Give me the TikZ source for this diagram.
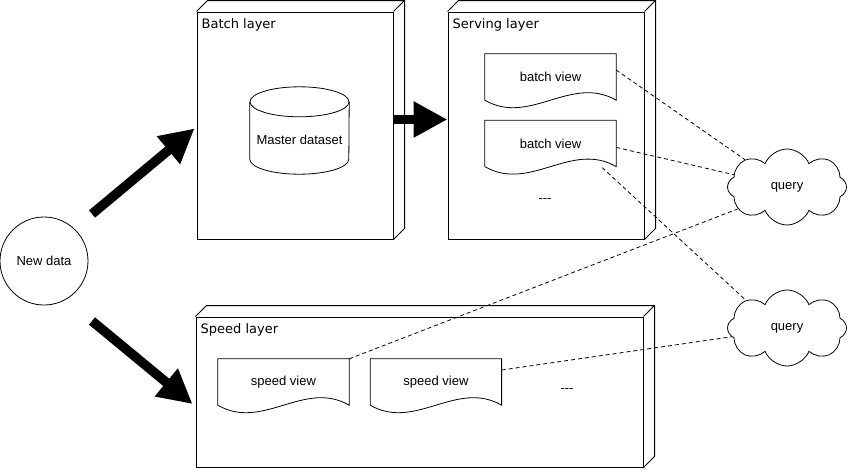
\documentclass[tikz,border=0pt]{standalone}
\usepackage{fontspec}
\setmainfont{Liberation Sans}
\newfontfamily\layerfont{DejaVu Sans}
\usetikzlibrary{positioning,shapes.symbols,arrows.meta}

% 3D depth of a layer box
\newcommand{\boxdepth}[1]{%
  \draw[layer line] (#1.north west) -- ++(11,-11) -- ([shift={(11,-11)}]#1.north east)
    -- ([shift={(11,-11)}]#1.south east) -- (#1.south east)
    (#1.north east) -- ++(11,-11);}
% document outline with wavy bottom
\newcommand{\docoutline}[1]{%
  \draw[view line] (#1.south west) -- (#1.north west) -- (#1.north east) -- (#1.south east)
    .. controls +(-45,-26) and +(45,26) .. (#1.south west);}
% cylinder outline
\newcommand{\dboutline}[1]{%
  \draw[view line] ([yshift=-15pt]#1.north) ellipse [x radius=49.5, y radius=15];
  \draw[view line] ([yshift=-15pt]#1.north west) -- ([yshift=15pt]#1.south west)
    arc [start angle=180, end angle=0, x radius=49.5, y radius=15] -- ([yshift=-15pt]#1.north east);}

\begin{document}
\begin{tikzpicture}[
    x=1pt, y=-1pt,
    font=\fontsize{13}{15}\selectfont,
    layer line/.style={line width=1pt},
    view line/.style={line width=0.8pt},
    layer/.style={rectangle, draw, layer line, minimum width=196pt, minimum height=227pt},
    layername/.style={anchor=north west, inner xsep=5pt, inner ysep=7pt, font=\layerfont\fontsize{13}{15}\selectfont},
    view/.style={rectangle, minimum width=131pt, minimum height=46pt, inner sep=0pt},
    query/.style={cloud, draw, view line, cloud puffs=8, cloud puff arc=135, aspect=1.6, minimum width=119pt, minimum height=76pt, inner sep=0pt},
    link/.style={line width=0.8pt, dash pattern=on 4pt off 3pt},
    flow/.style={-{Triangle[length=34pt,width=34pt]}, line width=9.5pt}
]
\useasboundingbox (0,0) rectangle (850,469);

% layers
\node[layer, label={[layername]north west:Batch layer}] (batch) at (295,125.5) {};
\node[layer, right=54pt of batch, label={[layername]north west:Serving layer}] (serving) {};
\node[layer, minimum width=447pt, minimum height=150pt, label={[layername]north west:Speed layer}] (speed) at (419.5,392) {};
\boxdepth{batch}
\boxdepth{serving}
\boxdepth{speed}

\node[circle, draw, view line, minimum size=88pt, inner sep=0pt] (newdata) at (44,261) {New data};
\node[rectangle, minimum width=99pt, minimum height=87pt, inner sep=0pt,
      label={[yshift=-9.5pt]center:Master dataset}] (master) at (299.5,130.5) {};
\dboutline{master}

% views
\node[view] (bv1) at (550.5,77) {batch view};
\node[view, below=20pt of bv1] (bv2) {batch view};
\node (dots1) at (545,201) {-{}-{}-};
\node[view] (sv1) at (283.5,382) {speed view};
\node[view, right=21pt of sv1] (sv2) {speed view};
\node (dots2) at (567,391) {-{}-{}-};
\docoutline{bv1}
\docoutline{bv2}
\docoutline{sv1}
\docoutline{sv2}

\node[query] (q1) at (787,187) {query};
\node[query] (q2) at (787,328) {query};

% data flow
\draw[flow] ([shift={(48,-47)}]newdata.center) -- ([shift={(-2,3)}]batch.west);
\draw[flow] ([shift={(48,60)}]newdata.center) -- ([shift={(-3,12)}]speed.west);
\draw[flow] ([yshift=6pt]batch.east) -- ([yshift=6pt]serving.west);

% queries
\draw[link] ([yshift=7pt]bv1.east) -- (q1.147);
\draw[link] ([yshift=-4pt]bv2.east) -- (q1.167);
\draw[link] ([shift={(-14,1)}]bv2.south east) -- (q2.146);
\draw[link] (sv1.north east) -- (q1.204);
\draw[link] ([yshift=12pt]sv2.east) -- (q2.189);

\end{tikzpicture}
\end{document}
